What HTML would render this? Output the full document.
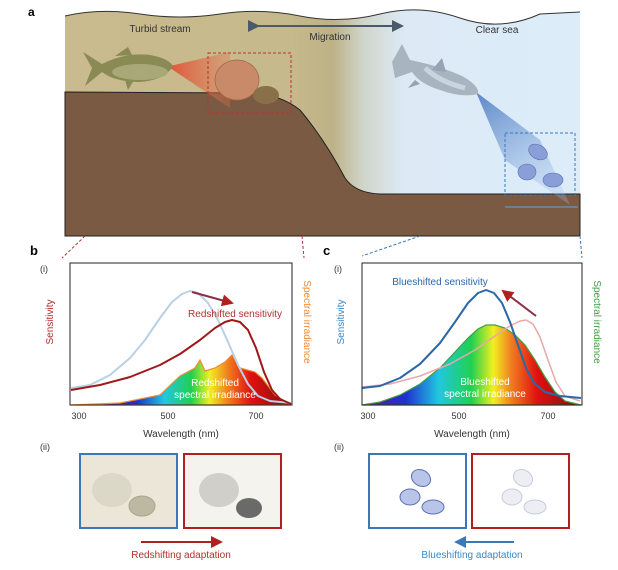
<!DOCTYPE html>
<html><head><meta charset="utf-8"><style>
html,body{margin:0;padding:0;background:#fff;}
svg{display:block;font-family:"Liberation Sans",sans-serif;}
</style></head><body>
<svg width="618" height="570" viewBox="0 0 618 570" xmlns="http://www.w3.org/2000/svg">
<defs>
<linearGradient id="water" x1="0" x2="1">
<stop offset="0" stop-color="#c9bb8d"/><stop offset="0.44" stop-color="#c6b98b"/>
<stop offset="0.52" stop-color="#bdb287"/><stop offset="0.58" stop-color="#d0d6cc"/>
<stop offset="0.66" stop-color="#ddeaf6"/><stop offset="1" stop-color="#dcecf9"/>
</linearGradient>
<linearGradient id="cone" x1="0" x2="1"><stop offset="0" stop-color="#e0583a"/><stop offset="1" stop-color="#e0704e" stop-opacity="0.3"/></linearGradient>
<linearGradient id="bcone" x1="0" y1="0" x2="0.5" y2="1"><stop offset="0" stop-color="#5a86c8"/><stop offset="1" stop-color="#9dbde6" stop-opacity="0.3"/></linearGradient>
<linearGradient id="specB" gradientUnits="userSpaceOnUse" x1="110" x2="291" y1="0" y2="0">
<stop offset="0" stop-color="#5a1aa0"/><stop offset="0.15" stop-color="#2030d0"/><stop offset="0.3" stop-color="#20c8e0"/>
<stop offset="0.45" stop-color="#20d050"/><stop offset="0.55" stop-color="#f0f020"/><stop offset="0.65" stop-color="#f08020"/>
<stop offset="0.78" stop-color="#e01010"/><stop offset="1" stop-color="#801010"/></linearGradient>
<linearGradient id="specC" gradientUnits="userSpaceOnUse" x1="362" x2="581" y1="0" y2="0">
<stop offset="0" stop-color="#5a1aa0"/><stop offset="0.2" stop-color="#2030d0"/><stop offset="0.35" stop-color="#20c8e0"/>
<stop offset="0.5" stop-color="#20d050"/><stop offset="0.6" stop-color="#f0f020"/><stop offset="0.68" stop-color="#f08020"/>
<stop offset="0.8" stop-color="#e01010"/><stop offset="1" stop-color="#801010"/></linearGradient>
<linearGradient id="arr" x1="0" x2="1"><stop offset="0" stop-color="#3a6aa8"/><stop offset="1" stop-color="#b02020"/></linearGradient>
<marker id="mh" markerWidth="6" markerHeight="6" refX="5" refY="3" orient="auto"><path d="M0,0 L6,3 L0,6z" fill="#b02020"/></marker>
<marker id="mhb" markerWidth="6" markerHeight="6" refX="5" refY="3" orient="auto"><path d="M0,0 L6,3 L0,6z" fill="#3a78b8"/></marker>
<marker id="mg" markerWidth="6" markerHeight="6" refX="5" refY="3" orient="auto"><path d="M0,0 L6,3 L0,6z" fill="#4a5a6a"/></marker>
</defs>

<!-- Panel a -->
<text x="28" y="16" font-size="12" font-weight="bold">a</text>
<path d="M65,16 Q100,8 140,14 T220,14 T300,16 T380,14 T460,18 T540,14 L580,12 L580,236 L65,236Z" fill="url(#water)"/>
<path d="M65,16 Q100,8 140,14 T220,14 T300,16 T380,14 T460,18 T540,14 L580,12" fill="none" stroke="#333" stroke-width="1"/>
<path d="M65,92 L250,93 Q280,94 300,110 Q325,140 345,178 Q355,193 380,194 L580,194 L580,236 L65,236Z" fill="#7a5a42" stroke="#222" stroke-width="1"/>
<text x="160" y="32" font-size="10" fill="#333" text-anchor="middle">Turbid stream</text>
<text x="330" y="40" font-size="10" fill="#333" text-anchor="middle">Migration</text>
<text x="497" y="33" font-size="10" fill="#333" text-anchor="middle">Clear sea</text>
<line x1="258" y1="26" x2="402" y2="26" stroke="#4a5a6a" stroke-width="2" marker-end="url(#mg)" marker-start="url(#mg)"/>
<polygon points="170,66 230,52 230,108 170,68" fill="url(#cone)"/>
<path d="M83,52 L102,64 Q125,52 150,55 Q168,58 173,66 Q165,80 140,82 Q115,82 102,72 L85,86 L92,68Z" fill="#8a8a55"/>
<path d="M115,56 L128,47 L132,55Z M125,80 L128,90 L134,80Z" fill="#8a8a55"/>
<ellipse cx="140" cy="72" rx="28" ry="8" fill="#a8a878"/>
<ellipse cx="237" cy="80" rx="22" ry="20" fill="#c88a68" stroke="#a06848" stroke-width="0.8"/>
<ellipse cx="266" cy="95" rx="13" ry="9" fill="#8a7048"/>
<rect x="208" y="53" width="83" height="60" fill="none" stroke="#c03030" stroke-dasharray="3,2" stroke-width="1"/>
<polygon points="476,92 505,160 570,205 540,140" fill="url(#bcone)"/>
<path d="M392,62 L402,44 L410,60 Q440,66 462,76 Q480,86 478,94 Q462,98 440,90 Q420,84 412,72 L395,78Z" fill="#a8b4c0"/>
<path d="M425,68 Q440,82 465,88" stroke="#c8d4e0" stroke-width="5" fill="none"/>
<path d="M432,70 L442,58 L446,72Z M415,80 L408,88 L420,84Z" fill="#95a3b2"/>
<g fill="#8a9ed8" stroke="#5a70b0" stroke-width="0.6">
<ellipse cx="538" cy="152" rx="10" ry="7" transform="rotate(30 538 152)"/>
<ellipse cx="527" cy="172" rx="9" ry="8"/>
<ellipse cx="553" cy="180" rx="10" ry="7"/>
</g>
<rect x="505" y="133" width="70" height="62" fill="none" stroke="#3a78b8" stroke-dasharray="3,2"/>
<line x1="505" y1="207" x2="578" y2="207" stroke="#6a8aa8" stroke-width="1.5"/>
<!-- connectors (only outside scene) -->
<line x1="85" y1="236" x2="62" y2="258" stroke="#c03030" stroke-dasharray="3,2"/>
<line x1="302" y1="236" x2="304" y2="258" stroke="#c03030" stroke-dasharray="3,2"/>
<line x1="420" y1="236" x2="362" y2="256" stroke="#3a78b8" stroke-dasharray="3,2"/>
<line x1="580" y1="236" x2="582" y2="258" stroke="#3a78b8" stroke-dasharray="3,2"/>

<!-- Panel b -->
<text x="30" y="255" font-size="13" font-weight="bold">b</text>
<text x="40" y="272" font-size="9" fill="#333">(i)</text>
<path d="M71,405 L120,403 L160,395 L180,376 L195,368 L200,360 L205,371 L215,368 L225,362 L232,355 L240,368 L255,372 L262,378 L275,395 L291,405Z" fill="url(#specB)" stroke="#f08a30" stroke-width="1.2"/>
<polyline points="71,388 90,385 110,375 130,358 145,340 160,318 172,302 182,294 190,291 198,293 208,303 218,320 228,342 238,365 248,384 258,396 270,401 291,403" fill="none" stroke="#b8d0e8" stroke-width="2" stroke-linejoin="round"/>
<polyline points="71,390 100,385 130,377 160,365 180,354 200,340 215,328 225,322 232,320 240,322 248,330 256,348 264,372 272,390 280,399 291,404" fill="none" stroke="#a01818" stroke-width="2" stroke-linejoin="round"/>
<rect x="70" y="263" width="222" height="142" fill="none" stroke="#222" stroke-width="1"/>
<line x1="192" y1="292" x2="232" y2="303" stroke="#8a3040" stroke-width="2" marker-end="url(#mh)"/>
<text x="235" y="317" font-size="10" fill="#b03030" text-anchor="middle">Redshifted sensitivity</text>
<text x="215" y="386" font-size="10" fill="#fff" text-anchor="middle">Redshifted</text>
<text x="215" y="398" font-size="10" fill="#fff" text-anchor="middle">spectral irradiance</text>
<text x="79" y="419" font-size="9" fill="#333" text-anchor="middle">300</text>
<text x="168" y="419" font-size="9" fill="#333" text-anchor="middle">500</text>
<text x="256" y="419" font-size="9" fill="#333" text-anchor="middle">700</text>
<text x="181" y="437" font-size="10" fill="#333" text-anchor="middle">Wavelength (nm)</text>
<text transform="translate(53,322) rotate(-90)" font-size="10" fill="#b03030" text-anchor="middle">Sensitivity</text>
<text transform="translate(304,322) rotate(90)" font-size="10" fill="#f08a30" text-anchor="middle">Spectral irradiance</text>

<!-- Panel c -->
<text x="323" y="255" font-size="13" font-weight="bold">c</text>
<text x="334" y="272" font-size="9" fill="#333">(i)</text>
<polygon points="362,405 380,402 400,395 420,384 440,368 455,352 468,338 478,329 486,325 495,325 505,328 515,335 525,345 535,360 545,377 555,392 565,401 581,405" fill="url(#specC)" stroke="#40a040" stroke-width="1.2"/>
<polyline points="362,387 390,384 420,376 450,364 475,350 495,336 510,326 520,321 526,320 533,324 540,337 548,360 556,382 565,396 580,401" fill="none" stroke="#e8a8a8" stroke-width="1.5" stroke-linejoin="round"/>
<polyline points="362,388 380,386 400,378 420,364 440,343 455,322 468,303 478,293 486,290 494,293 502,303 510,322 518,345 526,368 534,383 545,392 560,396 581,398" fill="none" stroke="#2a68a8" stroke-width="2" stroke-linejoin="round"/>
<rect x="362" y="263" width="220" height="142" fill="none" stroke="#222" stroke-width="1"/>
<line x1="536" y1="316" x2="503" y2="291" stroke="#8a3040" stroke-width="2" marker-end="url(#mh)"/>
<text x="440" y="285" font-size="10" fill="#2a68a8" text-anchor="middle">Blueshifted sensitivity</text>
<text x="485" y="385" font-size="10" fill="#fff" text-anchor="middle">Blueshifted</text>
<text x="485" y="397" font-size="10" fill="#fff" text-anchor="middle">spectral irradiance</text>
<text x="368" y="419" font-size="9" fill="#333" text-anchor="middle">300</text>
<text x="459" y="419" font-size="9" fill="#333" text-anchor="middle">500</text>
<text x="548" y="419" font-size="9" fill="#333" text-anchor="middle">700</text>
<text x="472" y="437" font-size="10" fill="#333" text-anchor="middle">Wavelength (nm)</text>
<text transform="translate(344,322) rotate(-90)" font-size="10" fill="#3a88c8" text-anchor="middle">Sensitivity</text>
<text transform="translate(594,322) rotate(90)" font-size="10" fill="#40a040" text-anchor="middle">Spectral irradiance</text>

<!-- (ii) -->
<text x="40" y="450" font-size="9" fill="#333">(ii)</text>
<text x="334" y="450" font-size="9" fill="#333">(ii)</text>
<rect x="80" y="454" width="97" height="74" fill="#ebe6d8" stroke="#3a78b8" stroke-width="2"/>
<ellipse cx="112" cy="490" rx="20" ry="17" fill="#dcd8c8"/>
<ellipse cx="142" cy="506" rx="13" ry="10" fill="#bcb8a2" stroke="#a8a48e"/>
<rect x="184" y="454" width="97" height="74" fill="#f5f3ee" stroke="#b02020" stroke-width="2"/>
<ellipse cx="219" cy="490" rx="20" ry="17" fill="#d0cfca"/>
<ellipse cx="249" cy="508" rx="13" ry="10" fill="#6a6a68"/>
<line x1="141" y1="542" x2="221" y2="542" stroke="#b02020" stroke-width="2" marker-end="url(#mh)"/>
<text x="181" y="558" font-size="10" fill="#b03030" text-anchor="middle">Redshifting adaptation</text>

<rect x="369" y="454" width="97" height="74" fill="#fff" stroke="#3a78b8" stroke-width="2"/>
<g fill="#b8c4e8" stroke="#5a70b0" stroke-width="1">
<ellipse cx="421" cy="478" rx="10" ry="8" transform="rotate(30 421 478)"/>
<ellipse cx="410" cy="497" rx="10" ry="8"/>
<ellipse cx="433" cy="507" rx="11" ry="7"/>
</g>
<rect x="472" y="454" width="97" height="74" fill="#fff" stroke="#b02020" stroke-width="2"/>
<g fill="#eceef4" stroke="#c8ccd8" stroke-width="1">
<ellipse cx="523" cy="478" rx="10" ry="8" transform="rotate(30 523 478)"/>
<ellipse cx="512" cy="497" rx="10" ry="8"/>
<ellipse cx="535" cy="507" rx="11" ry="7"/>
</g>
<line x1="514" y1="542" x2="456" y2="542" stroke="#3a78b8" stroke-width="2" marker-end="url(#mhb)"/>
<text x="472" y="558" font-size="10" fill="#3a88c8" text-anchor="middle">Blueshifting adaptation</text>
</svg>
</body></html>
